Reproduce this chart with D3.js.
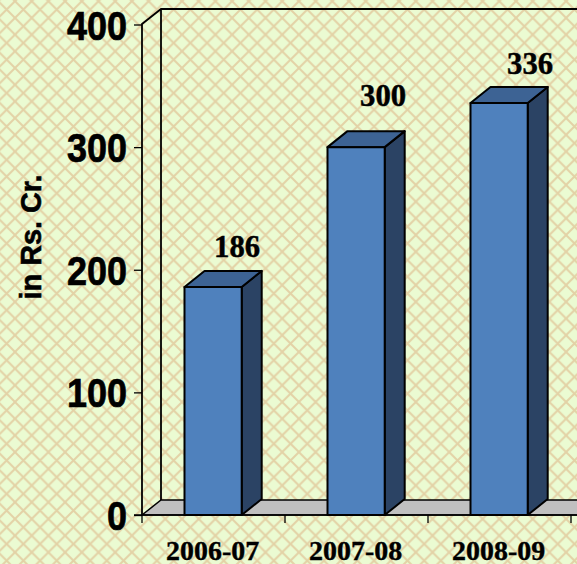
<!DOCTYPE html>
<meta charset="utf-8">
<style>
html, body { margin: 0; padding: 0; background: #ebfbd2; overflow: hidden; }
svg { display: block; }
</style>
<body>
<div id="box1"></div>
</body>
<script src="https://d3js.org/d3.v7.min.js"></script>
<script>

var categories = ["2006-07", "2007-08", "2008-09"];
var values = [186, 300, 336];
var yTickValues = [0, 100, 200, 300, 400];
var yTitle = "in Rs. Cr.";

// hand placed value labels, the original chart has them off the bars
var labelDx = [24, 27, 31];
var labelDy = [-30, -41, -29];

var width = 577, height = 564;
var left = 142, right = 571, bottom = 515, top_ = 24.5;
var wallDx = 19, wallDy = 15;   // depth of the back wall
var barDx = 20, barDy = 16;     // depth of the bars
var tile = 16.7;

var x = d3.scaleBand()
  .domain(categories)
  .range([left - 0.4, right - 0.4])
  .paddingInner(0.6)
  .paddingOuter(0.3);

var y = d3.scaleLinear()
  .domain([0, 400])
  .range([bottom, top_]);

var svg = d3.select("#box1").append("svg")
  .attr("width", width)
  .attr("height", height);

// lattice background
var pat = svg.append("defs").append("pattern")
  .attr("id", "lattice")
  .attr("patternUnits", "userSpaceOnUse")
  .attr("patternTransform", "translate(15,1.2)")
  .attr("width", tile)
  .attr("height", tile);
pat.append("rect").attr("width", tile).attr("height", tile).attr("fill", "#ebfbd2");
pat.append("path")
  .attr("d", "M-2,-2 L" + (tile + 2) + "," + (tile + 2) +
    " M" + (tile + 2) + ",-2 L-2," + (tile + 2))
  .attr("stroke", "#e3d2a6")
  .attr("stroke-width", 2)
  .attr("fill", "none");
svg.append("rect").attr("width", width).attr("height", height).attr("fill", "url(#lattice)");

// floor
svg.append("polygon")
  .attr("points", [[left, bottom], [left + wallDx, bottom - wallDy], [width + 30, bottom - wallDy], [width + 30 - wallDx, bottom]].join(" "))
  .attr("fill", "#c0c0c0")
  .attr("stroke", "#000")
  .attr("stroke-width", 1.5);

// back wall lines
svg.append("path")
  .attr("d", "M" + left + "," + bottom + " L" + left + ",24" +
    " L" + (left + wallDx) + "," + (24 - wallDy) + " L" + (width + 5) + "," + (24 - wallDy) +
    " M" + (left + wallDx) + "," + (24 - wallDy) + " L" + (left + wallDx) + "," + (bottom - wallDy))
  .attr("fill", "none")
  .attr("stroke", "#000")
  .attr("stroke-width", 1.8);

// bars
var bars = svg.append("g")
  .attr("stroke", "#000")
  .attr("stroke-width", 2)
  .attr("stroke-linejoin", "round")
  .selectAll("g")
  .data(categories)
  .join("g");

bars.append("polygon")
  .attr("fill", "#2b4364")
  .attr("points", function(d, i) {
    var x1 = x(d) + x.bandwidth();
    return [[x1, y(values[i])], [x1 + barDx, y(values[i]) - barDy], [x1 + barDx, y(0) - barDy], [x1, y(0)]].join(" ");
  });

bars.append("polygon")
  .attr("fill", "#3d6394")
  .attr("points", function(d, i) {
    var x0 = x(d), x1 = x0 + x.bandwidth(), t = y(values[i]);
    return [[x0, t], [x0 + barDx, t - barDy], [x1 + barDx, t - barDy], [x1, t]].join(" ");
  });

bars.append("rect")
  .attr("fill", "#4f81bd")
  .attr("x", function(d) { return x(d); })
  .attr("y", function(d, i) { return y(values[i]); })
  .attr("width", x.bandwidth())
  .attr("height", function(d, i) { return y(0) - y(values[i]); });

// axes
var yAxis = svg.append("g")
  .attr("transform", "translate(" + left + ",0)")
  .call(d3.axisLeft(y).tickValues(yTickValues).tickSize(8).tickPadding(7).tickFormat(d3.format("d")));
yAxis.select(".domain").remove();
yAxis.selectAll("line").attr("stroke", "#000").attr("stroke-width", 1.3);
// the digits are taller than they are wide, so squeeze them with textLength
yAxis.selectAll("text")
  .attr("font-family", "Liberation Sans")
  .attr("font-weight", "bold")
  .attr("font-size", 41)
  .attr("dy", 14.5)
  .attr("textLength", function(d) { return String(d).length * 20; })
  .attr("lengthAdjust", "spacingAndGlyphs")
  .attr("fill", "#000")
  .attr("stroke", "#000")
  .attr("stroke-width", 0.7);

// x axis: ticks sit on the band edges, labels in the band centres
var xTicks = [0, 1, 2, 3].map(function(i) { return left + i * x.step(); });
svg.append("g").selectAll("line")
  .data(xTicks)
  .join("line")
  .attr("x1", function(d) { return d; })
  .attr("x2", function(d) { return d; })
  .attr("y1", bottom)
  .attr("y2", bottom + 8)
  .attr("stroke", "#000")
  .attr("stroke-width", 1.3);

svg.append("line")
  .attr("x1", left - 8).attr("x2", width + 5)
  .attr("y1", bottom).attr("y2", bottom)
  .attr("stroke", "#000").attr("stroke-width", 1.5);

svg.append("g").selectAll("text")
  .data(categories)
  .join("text")
  .attr("x", function(d) { return x(d) + x.bandwidth() / 2 - 0.5; })
  .attr("y", 559.5)
  .attr("text-anchor", "middle")
  .attr("font-family", "Liberation Serif")
  .attr("font-weight", "bold")
  .attr("font-size", 27)
  .attr("textLength", 93)
  .attr("lengthAdjust", "spacingAndGlyphs")
  .attr("stroke", "#000")
  .attr("stroke-width", 0.4)
  .text(function(d) { return d; });

// value labels
svg.append("g").selectAll("text")
  .data(values)
  .join("text")
  .attr("x", function(d, i) { return x(categories[i]) + x.bandwidth() / 2 + labelDx[i]; })
  .attr("y", function(d, i) { return y(d) + labelDy[i]; })
  .attr("text-anchor", "middle")
  .attr("font-family", "Liberation Serif")
  .attr("font-weight", "bold")
  .attr("font-size", 32)
  .attr("textLength", 46)
  .attr("lengthAdjust", "spacingAndGlyphs")
  .attr("stroke", "#000")
  .attr("stroke-width", 0.5)
  .text(function(d) { return d; });

svg.append("text")
  .attr("transform", "translate(41,237) rotate(-90)")
  .attr("text-anchor", "middle")
  .attr("font-family", "Liberation Sans")
  .attr("font-weight", "bold")
  .attr("font-size", 29)
  .attr("textLength", 125)
  .attr("lengthAdjust", "spacingAndGlyphs")
  .attr("stroke", "#000")
  .attr("stroke-width", 0.6)
  .text(yTitle);

</script>
